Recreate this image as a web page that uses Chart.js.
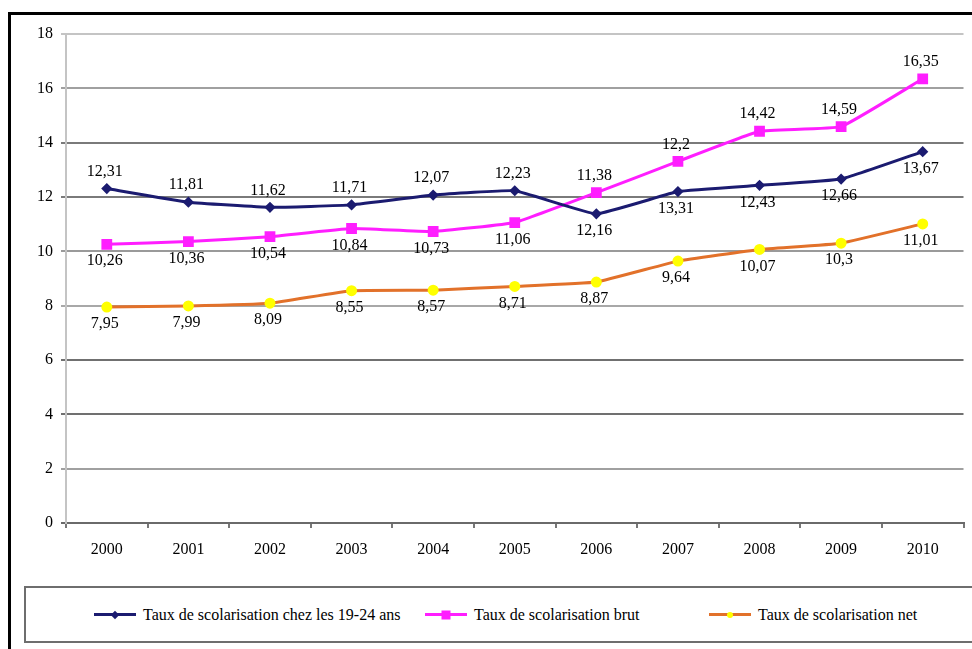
<!DOCTYPE html>
<html lang="fr">
<head>
<meta charset="UTF-8">
<title>Taux de scolarisation</title>
<script src="https://cdn.jsdelivr.net/npm/chart.js"></script>
<style>
    html, body { margin: 0; overflow: hidden; }
    body {
        background: #fff;
        font-family: "Liberation Serif", "Times New Roman", serif;
    }
    #wrap { position: relative; width: 972px; height: 649px; overflow: hidden; }
    #frame {
        position: absolute; left: 8px; top: 12px;
        width: 1000px; height: 700px;
        border-left: 3px solid #000; border-top: 3px solid #000;
    }
    #chart { position: absolute; left: 0; top: 0; }
    #legend {
        position: absolute; left: 24px; top: 586px;
        width: 1000px; height: 57px;
        box-sizing: border-box;
        border: 2px solid #6e6e6e; border-right: none;
        background: #fff;
        font-size: 16px; color: #000;
    }
    .item { position: absolute; top: 0; height: 53px; display: flex; align-items: center; gap: 7px; white-space: nowrap; }
    .sym { position: relative; width: 42px; height: 3px; }
    .mk { position: absolute; left: 50%; top: 50%; transform: translate(-50%, -50%); }
</style>
</head>
<body>
<div id="wrap">
    <div id="frame"></div>
    <canvas id="chart" width="972" height="649"></canvas>
    <div id="legend"></div>
</div>

<script>
// data
const years = ['2000', '2001', '2002', '2003', '2004', '2005', '2006', '2007', '2008', '2009', '2010'];
const seriesNames = [
    'Taux de scolarisation chez les 19-24 ans',
    'Taux de scolarisation brut',
    'Taux de scolarisation net'
];
const taux1924 = [12.31, 11.81, 11.62, 11.71, 12.07, 12.23, 11.38, 12.2, 12.43, 12.66, 13.67];
const tauxBrut = [10.26, 10.36, 10.54, 10.84, 10.73, 11.06, 12.16, 13.31, 14.42, 14.59, 16.35];
const tauxNet  = [7.95, 7.99, 8.09, 8.55, 8.57, 8.71, 8.87, 9.64, 10.07, 10.3, 11.01];
// label texts as printed on the original (2006-2007 appear swapped there)
const labels1924 = ['12,31', '11,81', '11,62', '11,71', '12,07', '12,23', '12,16', '13,31', '12,43', '12,66', '13,67'];
const labelsBrut = ['10,26', '10,36', '10,54', '10,84', '10,73', '11,06', '11,38', '12,2', '14,42', '14,59', '16,35'];
const labelsNet  = ['7,95', '7,99', '8,09', '8,55', '8,57', '8,71', '8,87', '9,64', '10,07', '10,3', '11,01'];
const yTicks = [0, 2, 4, 6, 8, 10, 12, 14, 16, 18];

const FONT = '"Liberation Serif", "Times New Roman", serif';
Chart.defaults.font.family = FONT;
Chart.defaults.font.size = 16;
Chart.defaults.color = '#000';

// grid line shades
const gridShade = { 0: '#6a6a6a', 2: '#a0a0a0', 4: '#707070', 6: '#707070', 8: '#a8a8a8',
                    10: '#9a9a9a', 12: '#7a7a7a', 14: '#7a7a7a', 16: '#a0a0a0', 18: '#c4c4c4' };

const styles = [
    { color: '#1b1b70', point: 'rectRot', radius: 3.5, fill: '#1b1b70' },
    { color: '#ff1eff', point: 'rect', radius: 5.5, fill: '#ff1eff' },
    { color: '#e2712a', point: 'circle', radius: 4, fill: '#ffff00' }
];

// label goes above the point if that series is the upper one at this year
function above(series, i) {
    if (series === 0) return taux1924[i] > tauxBrut[i];
    if (series === 1) return tauxBrut[i] > taux1924[i];
    return false;
}
const pointTexts = [labels1924, labelsBrut, labelsNet];

const pointLabels = {
    id: 'pointLabels',
    afterDatasetsDraw(chart) {
        const ctx = chart.ctx;
        ctx.save();
        ctx.font = '16px ' + FONT;
        ctx.fillStyle = '#000';
        ctx.textAlign = 'center';
        ctx.textBaseline = 'middle';
        chart.data.datasets.forEach((ds, di) => {
            chart.getDatasetMeta(di).data.forEach((pt, i) => {
                const dy = above(di, i) ? -17 : 17;
                ctx.fillText(pointTexts[di][i], pt.x - 2, pt.y + dy);
            });
        });
        ctx.restore();
    }
};

const datasets = [taux1924, tauxBrut, tauxNet].map((vals, k) => ({
    label: seriesNames[k],
    data: vals,
    borderColor: styles[k].color,
    borderWidth: 3,
    backgroundColor: styles[k].fill,
    pointBackgroundColor: styles[k].fill,
    pointBorderColor: styles[k].fill,
    pointStyle: styles[k].point,
    pointRadius: styles[k].radius,
    tension: 0.1
}));

function draw() {
    new Chart(document.getElementById('chart'), {
        type: 'line',
        data: { labels: years, datasets: datasets },
        options: {
            responsive: false,
            animation: false,
            events: [],
            layout: { padding: { top: 34, left: 0, right: 0, bottom: 0 } },
            plugins: { legend: { display: false }, tooltip: { enabled: false } },
            scales: {
                x: {
                    offset: true,
                    grid: { display: true, drawOnChartArea: false, drawTicks: true, tickLength: 5,
                            offset: true, color: '#777', lineWidth: 2 },
                    border: { display: true, color: '#6a6a6a', width: 2 },
                    ticks: { color: '#000', font: { family: FONT, size: 16 }, padding: 12, maxRotation: 0 },
                    afterFit: s => { s.height = 126; }
                },
                y: {
                    min: 0, max: 18,
                    afterBuildTicks: s => { s.ticks = yTicks.map(v => ({ value: v })); },
                    grid: {
                        color: c => gridShade[c.tick.value] || '#999',
                        lineWidth: 2, tickLength: 5
                    },
                    border: { display: true, color: '#c4c4c4', width: 2 },
                    ticks: { color: '#000', font: { family: FONT, size: 16 }, padding: 8 },
                    afterFit: s => { s.width = 66; }
                }
            }
        },
        plugins: [pointLabels]
    });
}

// make sure the serif face is ready before the canvas uses it
document.fonts.load('16px "Liberation Serif"').then(draw, draw);

// legend in its own box; item starts (page x)
const legendX = [94, 425, 709];
const legend = document.getElementById('legend');
seriesNames.forEach((name, k) => {
    const st = styles[k];
    const item = document.createElement('div');
    item.className = 'item';
    item.style.left = (legendX[k] - 26) + 'px';
    const sym = document.createElement('span');
    sym.className = 'sym';
    sym.style.background = st.color;
    const mk = document.createElement('span');
    mk.className = 'mk';
    const sz = k === 1 ? 9 : 6;
    mk.style.width = sz + 'px';
    mk.style.height = sz + 'px';
    mk.style.background = st.fill;
    if (k === 0) mk.style.transform = 'translate(-50%, -50%) rotate(45deg)';
    if (k === 2) mk.style.borderRadius = '50%';
    sym.appendChild(mk);
    const txt = document.createElement('span');
    txt.textContent = name;
    item.appendChild(sym);
    item.appendChild(txt);
    legend.appendChild(item);
});
</script>
</body>
</html>
